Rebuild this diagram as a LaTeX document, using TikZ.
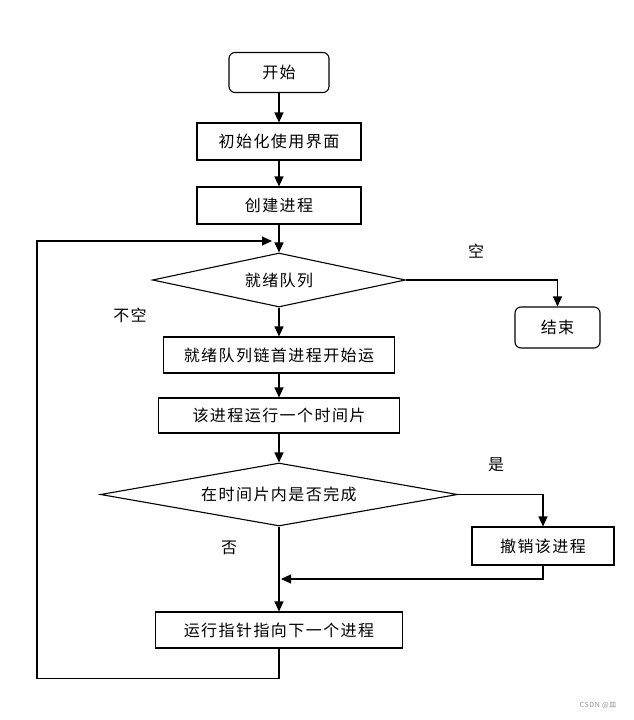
\documentclass[tikz,border=0pt]{standalone}
\usepackage{fontspec}
\setmainfont{Noto Sans CJK SC}[LetterSpace=9]
\usepackage{tikz}
\usetikzlibrary{arrows.meta,shapes.geometric,calc}

\begin{document}
\begin{tikzpicture}[x=1pt,y=-1pt,
    font=\fontsize{16}{19}\selectfont,
    every node/.style={inner sep=0pt},
    procbox/.style={draw,line width=1.1pt,minimum height=37pt},
    termbox/.style={draw,line width=1.1pt,rounded corners=6pt,minimum height=40pt},
    decbox/.style={draw,line width=1.1pt,diamond,aspect=4},
    arr/.style={line width=1.1pt,-{Triangle[length=10pt,width=9pt]}},
    line/.style={line width=1.1pt}]
    \useasboundingbox (0,0) rectangle (634,720);
    % Process scheduling flow
    \node[termbox,minimum width=100pt] (start) at (279,72.5) {开始};
    \node[procbox,minimum width=164pt] (init) at (279,141.5) {初始化使用界面};
    \node[procbox,minimum width=164pt] (create) at (279,205.5) {创建进程};
    \node[decbox,minimum width=253pt,minimum height=54pt] (ready) at (279,280) {就绪队列};
    \node[termbox,minimum width=85pt,minimum height=41pt] (stop) at (557.5,327.5) {结束};
    \node[procbox,minimum width=231pt,minimum height=36pt] (head) at (279,355) {就绪队列链首进程开始运};
    \node[procbox,minimum width=241pt,minimum height=35pt] (slice) at (279,415.5) {该进程运行一个时间片};
    \node[decbox,minimum width=357pt,minimum height=63pt] (done) at (279,494.5) {在时间片内是否完成};
    \node[procbox,minimum width=142pt,minimum height=38pt] (cancel) at (543,546) {撤销该进程};
    \node[procbox,minimum width=247pt,minimum height=36pt] (next) at (279,630) {运行指针指向下一个进程};

    \node (empty) at (476,251) {空};
    \node (notempty) at (130,315) {不空};
    \node (yes) at (496,465) {是};
    \node (no) at (229,548) {否};

    \coordinate (back) at (272,241);
    \coordinate (join) at (281,579);

    \draw[arr] (start) -- (init);
    \draw[arr] (init) -- (create);
    \draw[arr] (create) -- (ready);
    \draw[arr] (ready.east) -| (stop);
    \draw[arr] (ready) -- (head);
    \draw[arr] (head) -- (slice);
    \draw[arr] (slice) -- (done);
    \draw[arr] (done.east) -| (cancel);
    \draw[arr] (done) -- (next);
    \draw[arr] (cancel.south) |- (join);
    \draw[arr] (next.south) -- ++(0,30) -| ([xshift=-235pt]back) -- (back);

    \node[text=black!45,font=\fontsize{7}{8}\selectfont] (mark) at (598,705) {CSDN @皿};
\end{tikzpicture}
\end{document}
